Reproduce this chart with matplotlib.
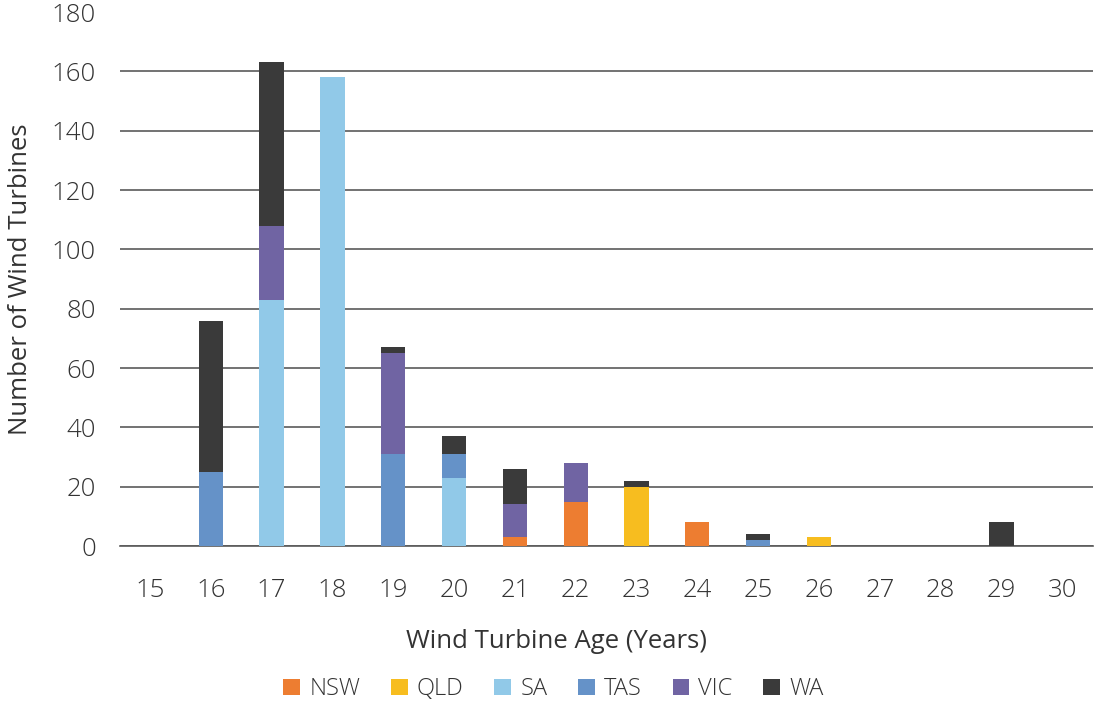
import matplotlib
matplotlib.use('Agg')
import matplotlib.pyplot as plt
import numpy as np

# data
ages = [15, 16, 17, 18, 19, 20, 21, 22, 23, 24, 25, 26, 27, 28, 29, 30]
nsw = [0, 0, 0, 0, 0, 0, 3, 15, 0, 8, 0, 0, 0, 0, 0, 0]
qld = [0, 0, 0, 0, 0, 0, 0, 0, 20, 0, 0, 3, 0, 0, 0, 0]
sa = [0, 0, 83, 158, 0, 23, 0, 0, 0, 0, 0, 0, 0, 0, 0, 0]
tas = [0, 25, 0, 0, 31, 8, 0, 0, 0, 0, 2, 0, 0, 0, 0, 0]
vic = [0, 0, 25, 0, 34, 0, 11, 13, 0, 0, 0, 0, 0, 0, 0, 0]
wa = [0, 51, 55, 0, 2, 6, 12, 0, 2, 0, 2, 0, 0, 0, 8, 0]

series = [('NSW', nsw, '#ED7D31'),
          ('QLD', qld, '#F7BD1F'),
          ('SA', sa, '#91C9E8'),
          ('TAS', tas, '#6592C8'),
          ('VIC', vic, '#7064A3'),
          ('WA', wa, '#3A3A3A')]

plt.rcParams['font.family'] = ['Open Sans', 'DejaVu Sans']
plt.rcParams['font.weight'] = 'light'
text_col = '#333333'
grid_col = '#5A5A5A'

fig = plt.figure(figsize=(11.07, 7.06), dpi=100)
ax = fig.add_axes([0.108, 0.2266, 0.879, 0.7564])

x = np.arange(len(ages))
bottom = np.zeros(len(ages))
for name, vals, col in series:
    vals = np.array(vals, dtype=float)
    ax.bar(x, vals, 0.4, bottom=bottom, color=col, label=name, zorder=3)
    bottom += vals

ax.set_xlim(-0.5, len(ages) - 0.5)
ax.set_ylim(0, 180)
ax.set_yticks(np.arange(0, 181, 20))
ax.set_xticks(x)
ax.set_xticklabels([str(a) for a in ages])

ax.yaxis.grid(True, color=grid_col, linewidth=1.2, zorder=0)
ax.yaxis.get_gridlines()[-1].set_visible(False)
for s in ['top', 'right', 'left']:
    ax.spines[s].set_visible(False)
ax.spines['bottom'].set_color(grid_col)
ax.spines['bottom'].set_linewidth(1.2)
ax.tick_params(axis='both', length=0, labelsize=18.5, labelcolor=text_col)
ax.tick_params(axis='x', pad=23)
ax.tick_params(axis='y', pad=17)

ax.set_xlabel('Wind Turbine Age (Years)', fontsize=18.5, color=text_col)
ax.xaxis.set_label_coords(0.449, -0.155)
ax.set_ylabel('Number of Wind Turbines', fontsize=18.5, color=text_col)
ax.yaxis.set_label_coords(-0.089, 0.5)

fig.legend(loc='center', bbox_to_anchor=(0.5, 0.024), ncol=6, frameon=False,
           fontsize=17, handlelength=0.7, handleheight=0.7, handletextpad=0.4,
           columnspacing=1.3, labelcolor=text_col)

fig.savefig('out.png', dpi=100)
